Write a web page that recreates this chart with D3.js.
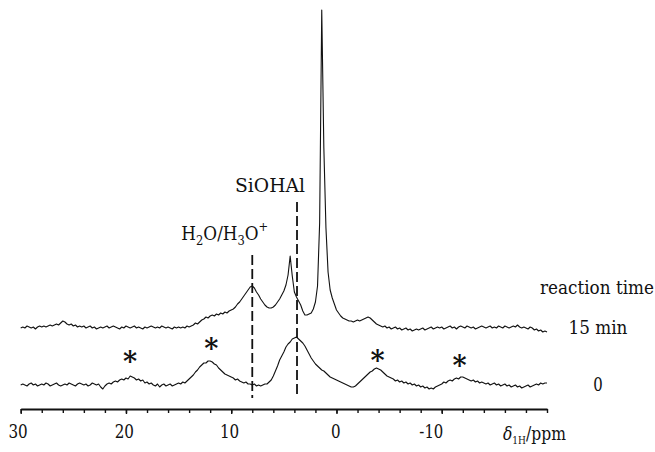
<!DOCTYPE html>
<html>
<head>
<meta charset="utf-8">
<script src="https://cdn.jsdelivr.net/npm/d3@7"></script>
<style>
  html, body { margin: 0; padding: 0; background: #fff; }
  svg { display: block; }
</style>
</head>
<body>
<svg id="chart" width="655" height="452"></svg>
<script>
// 1H MAS NMR spectra, sampled from 30 ppm down to -20 ppm every 0.2 ppm
const shiftStart = 30;
const shiftStep = 0.2;

// reaction time 0 (intensity, a.u.)
const spectrum0 = [
  0,1,0,-1,1,2,0,1,-1,0,
  1,0,2,1,-1,0,1,2,0,-1,
  0,1,0,2,1,0,-1,1,2,1,
  0,1,-1,0,2,1,0,1,-2,-4,
  -1,1,2,1,3,4,3,5,6,5,
  7,6,9,8,7,5,6,4,5,2,
  3,1,2,0,-1,1,-2,0,1,-1,
  0,1,-1,0,1,2,1,3,2,4,
  6,8,10,13,15,18,20,22,22,24,
  24,23,21,20,17,15,13,11,10,9,
  8,7,5,6,4,3,2,3,1,1,
  0,1,-1,0,-1,0,1,1,3,5,
  9,14,19,25,29,33,38,41,43,46,
  47,48,46,44,42,39,35,31,27,24,
  21,19,17,15,14,12,10,8,7,6,
  5,4,3,2,1,0,-1,-2,-2,-1,
  1,3,5,7,9,11,13,14,16,17,
  16,15,13,11,9,8,7,6,4,5,
  3,4,2,3,1,2,0,1,-1,0,
  -2,-1,-3,-2,-4,-3,-4,-2,-1,0,
  1,3,2,4,5,4,6,7,6,8,
  8,7,6,5,4,5,3,4,2,3,
  2,1,2,0,1,2,0,1,-1,0,
  1,-1,0,-2,-1,0,-2,-1,-3,-2,
  -1,0,-2,-1,0,1,0,2,1,2,
  2
];

// reaction time 15 min (intensity, a.u.)
const spectrum15 = [
  0,1,0,2,1,0,1,-1,1,2,
  1,2,1,2,3,2,3,4,3,5,
  7,6,4,3,4,2,3,1,2,1,
  2,0,1,2,0,1,-1,0,1,0,
  1,2,0,1,2,1,0,-1,1,0,
  2,1,0,1,2,0,1,0,-1,1,
  0,1,2,1,0,1,0,2,1,0,
  1,0,-1,1,0,1,0,1,0,2,
  1,2,3,5,4,6,8,9,11,10,
  12,13,12,14,13,15,14,16,15,17,
  18,19,21,24,26,29,32,35,38,41,
  42,40,36,33,29,26,23,21,20,20,
  21,23,26,29,33,37,43,53,72,52,
  36,31,27,23,17,13,13,14,15,19,
  26,42,105,318,180,100,56,38,30,24,
  18,15,12,10,9,8,7,7,6,7,
  8,7,8,9,10,11,10,8,6,4,
  3,2,1,2,0,1,-1,0,1,-1,
  0,-2,-1,0,-2,-1,-3,-2,-1,-2,
  -1,0,-2,-1,0,1,-1,0,1,0,
  1,-1,0,1,2,0,1,-1,1,2,
  1,0,2,1,0,1,-1,0,1,2,
  1,0,1,2,0,1,0,2,1,0,
  2,1,0,1,2,1,3,1,0,1,
  0,-1,1,0,-2,-1,-3,-2,-4,-3,
  -4
];

const traceLabels = ["0", "15 min"];
const legendTitle = "reaction time";

// assigned signals (ppm)
const signalShifts = [8.0, 3.75];
const signalNames = ["H2O/H3O+", "SiOHAl"];

// spinning sidebands: shift (ppm) and height of the marker (a.u., trace 0)
const sidebandShifts = [19.6, 11.9, -3.9, -11.7];
const sidebandLevels = [28, 41, 29, 24];

const majorTicks = [30, 20, 10, 0, -10];
const majorTickLabels = ["30", "20", "10", "0", "-10"];
const minorTicks = [30,28,26,24,22,20,18,16,14,12,10,8,6,4,2,0,-2,-4,-6,-8,-10,-12,-14,-16,-18,-20];

const serif = "'DejaVu Serif', serif";

// ---------------------------------------------------------------------------
const svg = d3.select("#chart");

// squeeze a text horizontally (about its anchor point) to a given width
function fitWidth(sel, width) {
  sel.each(function () {
    const bb = this.getBBox();
    if (!bb.width) return;
    const anchor = this.getAttribute("text-anchor") || "start";
    const ax = anchor === "middle" ? bb.x + bb.width / 2
             : anchor === "end" ? bb.x + bb.width : bb.x;
    const s = width / bb.width;
    d3.select(this).attr("transform", `translate(${ax},0) scale(${s},1) translate(${-ax},0)`);
  });
}

const x = d3.scaleLinear().domain([30, -20]).range([20.7, 547]);
const y = d3.scaleLinear().domain([0, 375]).range([385, 10]);

const stackOffset = 57;   // vertical offset of the 15 min trace (a.u.)
const axisY = 409;

const shifts = spectrum0.map((_, i) => shiftStart - i * shiftStep);

const traces = [
  { values: spectrum0, offset: 0, label: traceLabels[0] },
  { values: spectrum15, offset: stackOffset, label: traceLabels[1] }
];

const line = d3.line()
  .x(d => x(d[0]))
  .y(d => y(d[1]));

svg.append("g")
  .selectAll("path")
  .data(traces)
  .join("path")
  .attr("d", t => line(t.values.map((v, i) => [shifts[i], v + t.offset])))
  .attr("fill", "none")
  .attr("stroke", "#111")
  .attr("stroke-width", 1.1)
  .attr("stroke-linejoin", "round");

// dashed markers for the assigned signals
const markerTop = [255, 202];
svg.append("g")
  .selectAll("line")
  .data(signalShifts)
  .join("line")
  .attr("x1", d => x(d)).attr("x2", d => x(d))
  .attr("y1", (d, i) => markerTop[i])
  .attr("y2", 398)
  .attr("stroke", "#111")
  .attr("stroke-width", 1.8)
  .attr("stroke-dasharray", "10,4");

// signal labels
const h2o = svg.append("text")
  .attr("x", x(signalShifts[0]) + 16)
  .attr("y", 240)
  .attr("text-anchor", "end")
  .attr("font-family", serif)
  .attr("font-size", 19)
  .attr("fill", "#111");
h2o.append("tspan").text("H");
h2o.append("tspan").attr("font-size", 13).attr("dy", 5).text("2");
h2o.append("tspan").attr("dy", -5).text("O/H");
h2o.append("tspan").attr("font-size", 13).attr("dy", 5).text("3");
h2o.append("tspan").attr("dy", -5).text("O");
h2o.append("tspan").attr("font-size", 13).attr("dy", -9).text("+");
fitWidth(h2o, 87);

svg.append("text")
  .attr("x", x(signalShifts[1]) + 8)
  .attr("y", 192)
  .attr("text-anchor", "end")
  .attr("font-family", serif)
  .attr("font-size", 19)
  .attr("fill", "#111")
  .text(signalNames[1])
  .call(fitWidth, 70);

// sideband markers
svg.append("g")
  .selectAll("text")
  .data(sidebandShifts)
  .join("text")
  .attr("x", d => x(d))
  .attr("y", (d, i) => y(sidebandLevels[i]) + 14)
  .attr("text-anchor", "middle")
  .attr("font-family", serif)
  .attr("font-size", 27)
  .attr("font-weight", "bold")
  .attr("fill", "#111")
  .text("*");

// trace labels
const labelX = 598;
svg.append("text")
  .attr("x", labelX - 1).attr("y", 294)
  .attr("text-anchor", "middle")
  .attr("font-family", serif)
  .attr("font-size", 19)
  .attr("fill", "#111")
  .text(legendTitle)
  .call(fitWidth, 114);

const traceLabelWidths = [9.5, 59];
svg.append("g")
  .selectAll("text")
  .data(traces)
  .join("text")
  .attr("x", labelX)
  .attr("y", t => y(t.offset) + 6)
  .attr("text-anchor", "middle")
  .attr("font-family", serif)
  .attr("font-size", 19)
  .attr("fill", "#111")
  .text(t => t.label)
  .each(function (t, i) { fitWidth(d3.select(this), traceLabelWidths[i]); });

// chemical shift axis
const minorAxis = d3.axisBottom(x)
  .tickValues(minorTicks)
  .tickSizeInner(4)
  .tickSizeOuter(0)
  .tickFormat("");
const gMinor = svg.append("g")
  .attr("transform", `translate(0,${axisY})`)
  .call(minorAxis);
gMinor.select(".domain").attr("stroke", "#111").attr("stroke-width", 1.8);
gMinor.selectAll(".tick line").attr("stroke", "#111").attr("stroke-width", 1.4);

const majorAxis = d3.axisBottom(x)
  .tickValues(majorTicks)
  .tickSizeInner(5)
  .tickSizeOuter(0)
  .tickFormat((d, i) => majorTickLabels[i]);
const gMajor = svg.append("g")
  .attr("transform", `translate(0,${axisY})`)
  .call(majorAxis);
gMajor.attr("font-family", serif);
gMajor.select(".domain").remove();
gMajor.selectAll(".tick line").attr("stroke", "#111").attr("stroke-width", 1.4);
const tickLabelWidths = [19.3, 19.3, 19.3, 9.6, 24];
const tickLabelShift = [-1, 0, 0, 0, -8];
gMajor.selectAll(".tick text")
  .attr("y", 29).attr("dy", null)
  .attr("x", (d, i) => tickLabelShift[i])
  .attr("font-family", serif)
  .attr("font-size", 18.5)
  .attr("fill", "#111")
  .each(function (d, i) { fitWidth(d3.select(this), tickLabelWidths[i]); });

// axis title
const title = svg.append("text")
  .attr("x", 503).attr("y", 440)
  .attr("font-family", serif)
  .attr("font-size", 19)
  .attr("fill", "#111");
title.append("tspan").attr("font-style", "italic").text("δ");
title.append("tspan").attr("font-size", 11).attr("dy", 4).text("1H");
title.append("tspan").attr("dy", -4).text("/ppm");
fitWidth(title, 63);
</script>
</body>
</html>
